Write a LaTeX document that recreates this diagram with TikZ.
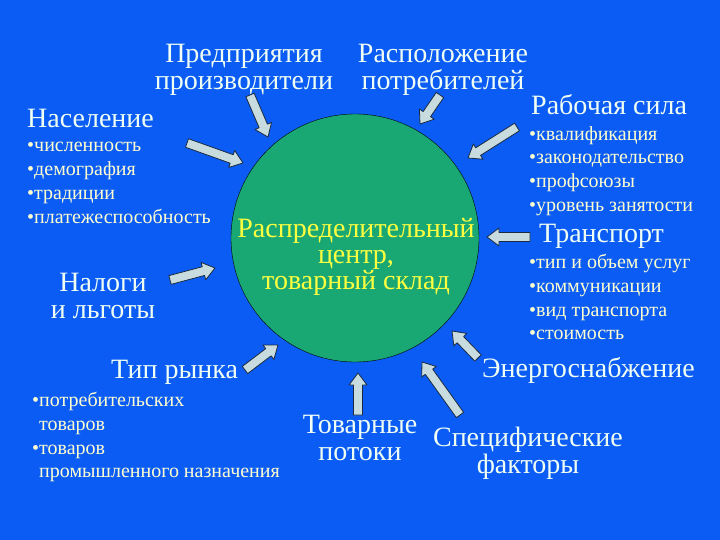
\documentclass[tikz,border=0pt]{standalone}
\usepackage{fontspec}
\setmainfont{Liberation Serif}
\usetikzlibrary{calc,positioning}
\definecolor{slideblue}{HTML}{0A5CF5}
\definecolor{hubgreen}{HTML}{19A873}
\definecolor{hubtext}{HTML}{FFFF40}
\definecolor{headtext}{HTML}{F0FFF4}
\definecolor{itemtext}{HTML}{FFFFD0}
\definecolor{arrowfill}{HTML}{C8DCE0}
\definecolor{arrowedge}{HTML}{1A2A40}
% block arrow from #1 (tail) to #2 (tip)
\newcommand{\blkarrow}[2]{%
  \coordinate (hb) at ($(#2)!12pt!(#1)$);
  \filldraw[blk] ($(#1)!4.5pt!90:(#2)$) -- ($(hb)!4.5pt!90:(#2)$)
    -- ($(hb)!9pt!90:(#2)$) -- (#2) -- ($(hb)!9pt!-90:(#2)$)
    -- ($(hb)!4.5pt!-90:(#2)$) -- ($(#1)!4.5pt!-90:(#2)$) -- cycle;
}
\tikzset{
  head/.style={font=\fontsize{28}{27}\selectfont, text=headtext, align=center, inner sep=0pt},
  items/.style={font=\fontsize{20}{23.8}\selectfont, text=itemtext, align=left, inner sep=0pt},
  hub/.style={circle, draw=black, thin, fill=hubgreen, minimum size=248pt, inner sep=0pt},
  hubtitle/.style={font=\fontsize{28}{26}\selectfont, text=hubtext, align=center, inner sep=0pt},
  blk/.style={fill=arrowfill, draw=arrowedge, line width=0.8pt, line join=round},
}

\begin{document}
\begin{tikzpicture}[x=1pt, y=-1pt]
\fill[slideblue] (0,0) rectangle (720,540);
\useasboundingbox (0,0) rectangle (720,540);

\node[hub] (hub) at (355,238) {};
\node[hubtitle] (hubtext) at (356,257) {Распределительный\\центр,\\товарный склад};

\node[head] (makers) at (244,70) {Предприятия\\производители};
\node[head] (buyers) at (443,70) {Расположение\\потребителей};
\node[head, anchor=west] (people) at (27,118) {Население};
\node[items, anchor=north west] (peopleitems) at (27,142)
  {•численность\\•демография\\•традиции\\•платежеспособность};
\node[head, anchor=west] (labour) at (531,105) {Рабочая сила};
\node[items, anchor=north west] (labouritems) at (529,126)
  {•квалификация\\•законодательство\\•профсоюзы\\•уровень занятости};
\node[head, anchor=west] (transport) at (539,236) {Транспорт};
\node[items, anchor=north west] (transportitems) at (529,254)
  {•тип и объем услуг\\•коммуникации\\•вид транспорта\\•стоимость};
\node[head] (taxes) at (103,296) {Налоги\\и льготы};
\node[head, anchor=west] (market) at (111,372) {Тип рынка};
\node[items, anchor=north west] (marketitems) at (32,392)
  {•потребительских\\\phantom{•}товаров\\•товаров\\\phantom{•}промышленного назначения};
\node[head] (flows) at (360,438) {Товарные\\потоки};
\node[head] (specific) at (528,453) {Специфические\\факторы};
\node[head, anchor=west] (energy) at (482,370) {Энергоснабжение};

% arrow ends
\coordinate (makersA) at (250,95);   \coordinate (makersB) at (268,137);
\coordinate (peopleA) at (187,143);  \coordinate (peopleB) at (243,163);
\coordinate (buyersA) at (440,95);   \coordinate (buyersB) at (420,124);
\coordinate (labourA) at (517,127);  \coordinate (labourB) at (468,158);
\coordinate (transA) at (530,237);   \coordinate (transB) at (487,237);
\coordinate (taxesA) at (170,280);   \coordinate (taxesB) at (215,268);
\coordinate (marketA) at (245,370);  \coordinate (marketB) at (278,345);
\coordinate (flowsA) at (358,415);   \coordinate (flowsB) at (358,373);
\coordinate (specA) at (460,415);    \coordinate (specB) at (422,362);
\coordinate (energyA) at (478,358);  \coordinate (energyB) at (452,331);

\blkarrow{makersA}{makersB}
\blkarrow{peopleA}{peopleB}
\blkarrow{buyersA}{buyersB}
\blkarrow{labourA}{labourB}
\blkarrow{transA}{transB}
\blkarrow{taxesA}{taxesB}
\blkarrow{marketA}{marketB}
\blkarrow{flowsA}{flowsB}
\blkarrow{specA}{specB}
\blkarrow{energyA}{energyB}
\end{tikzpicture}
\end{document}
